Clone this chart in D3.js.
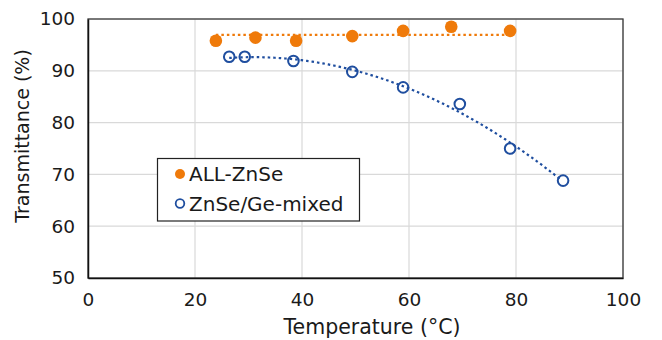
<html>
<head>
  <style>
  body { margin: 0; background: #fff; }
  #chart text { font-family: "DejaVu Sans", Verdana, sans-serif; fill: #1a1a1a; }
  </style>
  <script src="https://d3js.org/d3.v7.min.js"></script>
</head>
<body>
  <svg id="chart"></svg>
</body>
  <script>
  // Data
  var allZnSeTemp = [23.9, 31.3, 38.9, 49.4, 58.9, 67.9, 78.9];
  var allZnSeTrans = [95.8, 96.4, 95.8, 96.7, 97.7, 98.5, 97.7];
  var mixedTemp = [26.4, 29.3, 38.4, 49.4, 58.9, 69.5, 78.9, 88.8];
  var mixedTrans = [92.7, 92.7, 91.9, 89.8, 86.8, 83.6, 75.0, 68.8];
  var xTicks = [0, 20, 40, 60, 80, 100];
  var yTicks = [50, 60, 70, 80, 90, 100];
  var seriesNames = ["ALL-ZnSe", "ZnSe/Ge-mixed"];

  var width = 662, height = 340;
  var margin = {left: 88, right: 39, top: 19, bottom: 62};
  var orange = "#ef7a0a", blue = "#1f4e9f";

  var x = d3.scaleLinear().domain([0, 100]).range([margin.left, width - margin.right]);
  var y = d3.scaleLinear().domain([50, 100]).range([height - margin.bottom, margin.top]);

  var chart = d3.select("#chart").attr("width", width).attr("height", height);

  // gridlines
  chart.selectAll("line.gx").data(xTicks.slice(1)).enter().append("line")
      .attr("x1", d => x(d)).attr("x2", d => x(d))
      .attr("y1", y(50)).attr("y2", y(100))
      .attr("stroke", "#d9d9d9").attr("stroke-width", 1.2);
  chart.selectAll("line.gy").data(yTicks.slice(1)).enter().append("line")
      .attr("x1", x(0)).attr("x2", x(100))
      .attr("y1", d => y(d)).attr("y2", d => y(d))
      .attr("stroke", "#d9d9d9").attr("stroke-width", 1.2);

  // frame
  chart.append("rect")
      .attr("x", x(0)).attr("y", y(100))
      .attr("width", x(100) - x(0)).attr("height", y(50) - y(100))
      .attr("fill", "none").attr("stroke", "#3a3a3a").attr("stroke-width", 1.3);

  // axes
  var xAxis = chart.append("g").attr("transform", "translate(0," + y(50) + ")")
      .call(d3.axisBottom(x).tickValues(xTicks).tickSize(0).tickPadding(15));
  var yAxis = chart.append("g").attr("transform", "translate(" + x(0) + ",0)")
      .call(d3.axisLeft(y).tickValues(yTicks).tickSize(0).tickPadding(13));
  [xAxis, yAxis].forEach(function(a) {
    a.select(".domain").attr("stroke", "#111").attr("stroke-width", 1.5);
    a.selectAll("text").style("font-size", "18.5px").attr("fill", "#1a1a1a");
  });

  // trendlines
  var meanOrange = d3.mean(allZnSeTrans);
  chart.append("line")
      .attr("x1", x(d3.min(allZnSeTemp))).attr("x2", x(d3.max(allZnSeTemp)))
      .attr("y1", y(meanOrange)).attr("y2", y(meanOrange))
      .attr("stroke", orange).attr("stroke-width", 2.2).attr("stroke-dasharray", "2.5,3");

  // quadratic least squares fit for the mixed series
  function quadFit(xs, ys) {
    var S = [0, 0, 0, 0, 0], T = [0, 0, 0];
    xs.forEach(function(xv, i) {
      for (var k = 0; k < 5; k++) S[k] += Math.pow(xv, k);
      for (var k = 0; k < 3; k++) T[k] += ys[i] * Math.pow(xv, k);
    });
    var A = [[S[0], S[1], S[2], T[0]], [S[1], S[2], S[3], T[1]], [S[2], S[3], S[4], T[2]]];
    for (var i = 0; i < 3; i++) {
      for (var j = i + 1; j < 3; j++) {
        var f = A[j][i] / A[i][i];
        for (var k = i; k < 4; k++) A[j][k] -= f * A[i][k];
      }
    }
    var c = [0, 0, 0];
    for (var i = 2; i >= 0; i--) {
      var s = A[i][3];
      for (var k = i + 1; k < 3; k++) s -= A[i][k] * c[k];
      c[i] = s / A[i][i];
    }
    return function(t) { return c[0] + c[1] * t + c[2] * t * t; };
  }
  var fit = quadFit(mixedTemp, mixedTrans);
  var xs = d3.range(d3.min(mixedTemp), d3.max(mixedTemp) + 0.01, 0.5);
  chart.append("path")
      .attr("d", d3.line().x(d => x(d)).y(d => y(fit(d)))(xs))
      .attr("fill", "none").attr("stroke", blue).attr("stroke-width", 2.2)
      .attr("stroke-dasharray", "2.5,3");

  // markers
  chart.selectAll("circle.o").data(allZnSeTemp).enter().append("circle")
      .attr("cx", d => x(d)).attr("cy", (d, i) => y(allZnSeTrans[i]))
      .attr("r", 6.3).attr("fill", orange);
  chart.selectAll("circle.b").data(mixedTemp).enter().append("circle")
      .attr("cx", d => x(d)).attr("cy", (d, i) => y(mixedTrans[i]))
      .attr("r", 5.3).attr("fill", "none").attr("stroke", blue).attr("stroke-width", 2);

  // axis titles
  chart.append("text")
      .attr("x", 372).attr("y", 334)
      .attr("text-anchor", "middle").style("font-size", "20.5px")
      .text("Temperature (°C)");
  chart.append("text")
      .attr("transform", "translate(29,136) rotate(-90)")
      .attr("text-anchor", "middle").style("font-size", "19px")
      .text("Transmittance (%)");

  // legend
  var legend = chart.append("g");
  legend.append("rect")
      .attr("x", 157.5).attr("y", 158.5).attr("width", 202).attr("height", 62.5)
      .attr("fill", "#fff").attr("stroke", "#222").attr("stroke-width", 1.2);
  var items = legend.selectAll("g.item").data(seriesNames).enter().append("g")
      .attr("transform", (d, i) => "translate(180," + (174 + i * 29.5) + ")");
  items.append("circle")
      .attr("r", (d, i) => i === 0 ? 5 : 4.3)
      .attr("fill", (d, i) => i === 0 ? orange : "#fff")
      .attr("stroke", (d, i) => i === 0 ? "none" : blue)
      .attr("stroke-width", 1.8);
  items.append("text")
      .attr("x", 9).attr("dy", "0.36em").style("font-size", "20px")
      .text(d => d);
  </script>
</html>
